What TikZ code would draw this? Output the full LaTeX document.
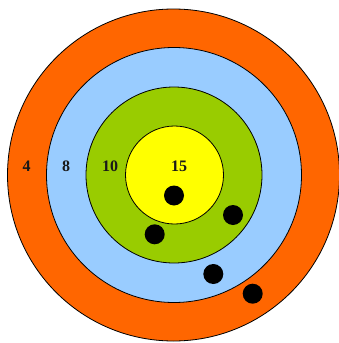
\documentclass[tikz,border=0pt]{standalone}
\usepackage{fontspec}
\setmainfont{Liberation Serif}
\definecolor{ringorange}{HTML}{FF6600}
\definecolor{ringblue}{HTML}{99CCFF}
\definecolor{ringgreen}{HTML}{99CC00}
\definecolor{ringyellow}{HTML}{FFFF00}
\begin{document}
\begin{tikzpicture}[x=1pt,y=-1pt,
  ring/.style={draw=black,line width=0.8pt,circle,inner sep=0pt},
  hole/.style={fill=black,circle,inner sep=0pt,minimum size=20pt},
  score/.style={font=\fontsize{16}{16}\selectfont\bfseries,text=black!90}]
\useasboundingbox (0,0) rectangle (339,343);
\node[ring,fill=ringorange,minimum size=332pt] (r4) at (173.5,175) {};
\node[ring,fill=ringblue,minimum size=255pt] (r8) at (174,175) {};
\node[ring,fill=ringgreen,minimum size=176pt] (r10) at (174,175) {};
\node[ring,fill=ringyellow,minimum size=98pt] (r15) at (174.5,175) {};
\node[score] (l4) at (26.7,166) {4};
\node[score] (l8) at (66,166) {8};
\node[score] (l10) at (110,166) {10};
\node[score] (l15) at (179,166) {15};
\node[hole] (h1) at (174,195.5) {};
\node[hole] (h2) at (233,215) {};
\node[hole] (h3) at (154.7,234.3) {};
\node[hole] (h4) at (213.3,274) {};
\node[hole] (h5) at (252.7,293.7) {};
\end{tikzpicture}
\end{document}
